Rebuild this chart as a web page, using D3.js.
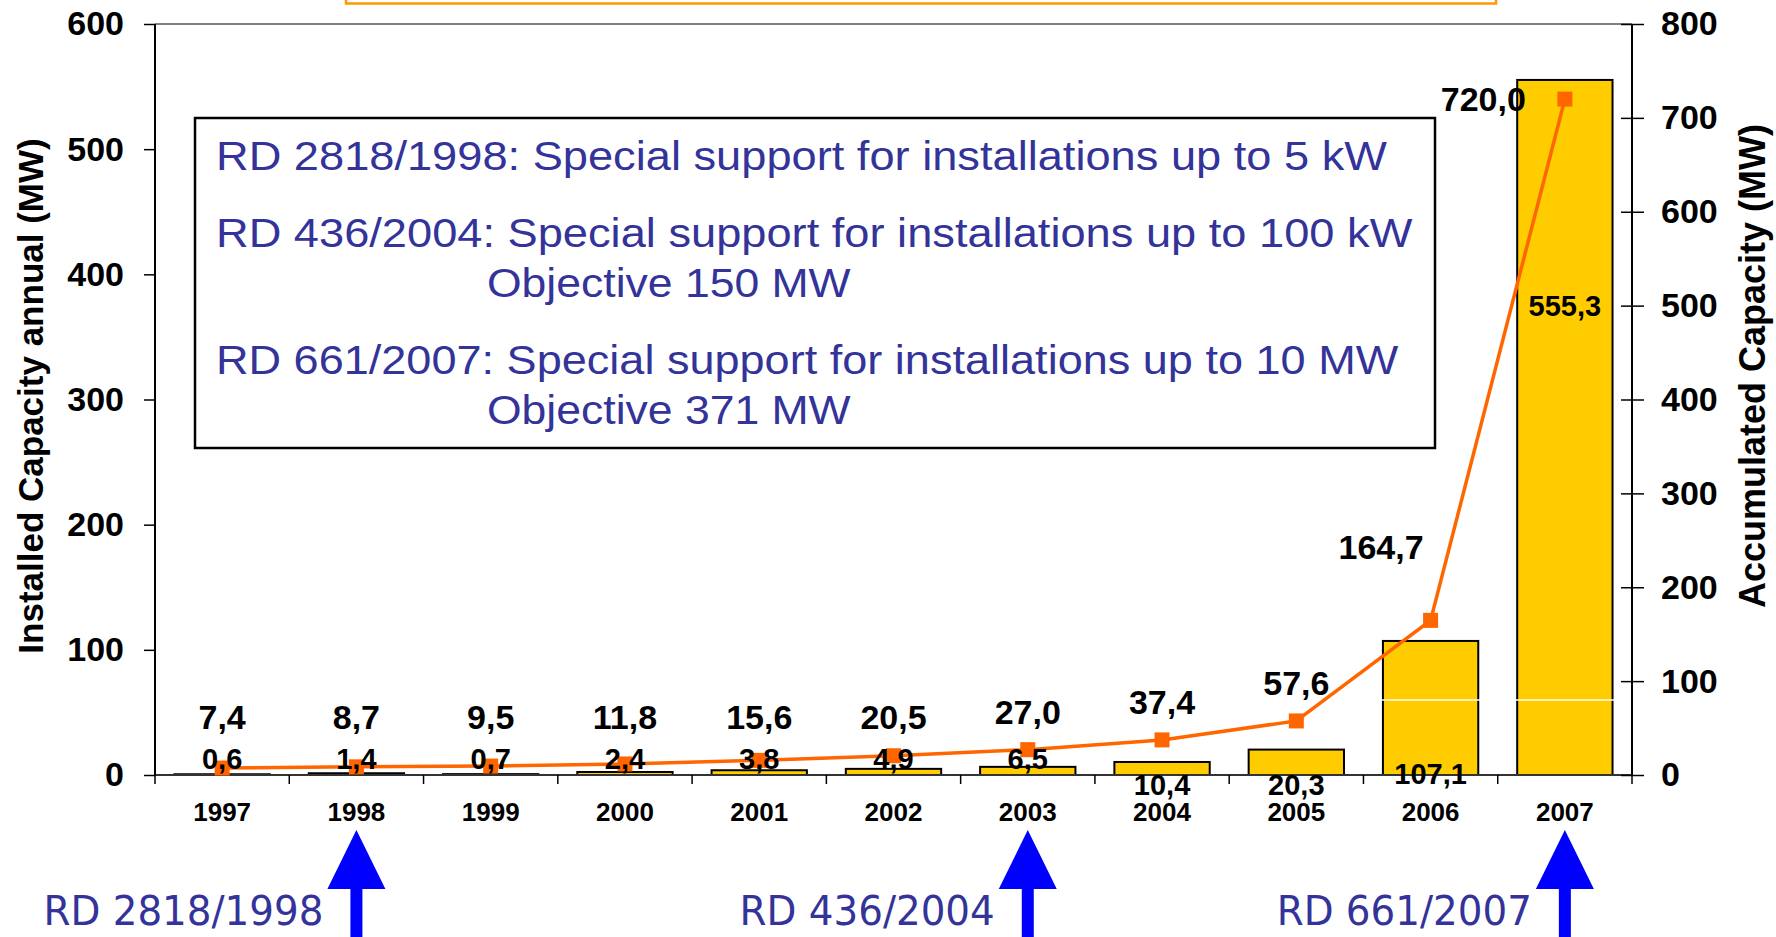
<!DOCTYPE html>
<html>
<head>
<meta charset="utf-8">
<script src="https://cdn.jsdelivr.net/npm/d3@7"></script>
<style>
  body { margin: 0; background: #fff; }
  svg text { font-family: "Liberation Sans", Arial, sans-serif; }
</style>
</head>
<body>
<svg id="chart" width="1776" height="937"></svg>
<script>
// data
const years = ["1997", "1998", "1999", "2000", "2001", "2002", "2003", "2004", "2005", "2006", "2007"];
const annualMW = [0.6, 1.4, 0.7, 2.4, 3.8, 4.9, 6.5, 10.4, 20.3, 107.1, 555.3];
const accumulatedMW = [7.4, 8.7, 9.5, 11.8, 15.6, 20.5, 27.0, 37.4, 57.6, 164.7, 720.0];
const leftTicks = [0, 100, 200, 300, 400, 500, 600];
const rightTicks = [0, 100, 200, 300, 400, 500, 600, 700, 800];
const leftTitle = "Installed Capacity annual (MW)";
const rightTitle = "Accumulated Capacity (MW)";
const decreeNames = ["RD 2818/1998", "RD 436/2004", "RD 661/2007"];
const decreeSupport = [
  "Special support for installations up to 5 kW",
  "Special support for installations up to 100 kW",
  "Special support for installations up to 10 MW"
];
const decreeObjective = [null, "Objective 150 MW", "Objective 371 MW"];
const decreeArrowYears = ["1998", "2003", "2007"];

const svg = d3.select("#chart");
const margin = {top: 24, right: 144, bottom: 162, left: 155};
const W = 1776, H = 937;
const x0 = margin.left, x1 = W - margin.right;   // 155 .. 1632
const yTop = margin.top, yBase = H - margin.bottom; // 24 .. 775

const x = d3.scaleBand().domain(years).range([x0, x1]).paddingInner(0.29).paddingOuter(0.145);
const yL = d3.scaleLinear().domain([0, 600]).range([yBase, yTop]);
const yR = d3.scaleLinear().domain([0, 800]).range([yBase, yTop]);
const fmt = v => d3.format(".1f")(v).replace(".", ",");
const cx = yr => x(yr) + x.bandwidth() / 2;
const arial = '"Liberation Sans", Arial, sans-serif';

// orange box cut off at the top
svg.append("rect")
  .attr("x", 346).attr("y", -20).attr("width", 1150).attr("height", 23.5)
  .attr("fill", "none").attr("stroke", "#FF9900").attr("stroke-width", 2.5);

// top frame line
svg.append("line")
  .attr("x1", x0).attr("x2", x1).attr("y1", yTop).attr("y2", yTop)
  .attr("stroke", "#808080").attr("stroke-width", 2);

// bars
svg.append("g").selectAll("rect").data(years).join("rect")
  .attr("x", d => x(d))
  .attr("y", (d, i) => yL(annualMW[i]))
  .attr("width", x.bandwidth())
  .attr("height", (d, i) => yBase - yL(annualMW[i]))
  .attr("fill", "#FFCC00").attr("stroke", "#000").attr("stroke-width", 2);

// faint white gridline that shows through the tall bars
svg.append("line")
  .attr("x1", x0 + 2).attr("x2", x1 - 2).attr("y1", yL(60)).attr("y2", yL(60))
  .attr("stroke", "#fff").attr("stroke-width", 1.5);

// x axis (baseline + ticks between categories)
svg.append("line")
  .attr("x1", x0).attr("x2", x1).attr("y1", yBase).attr("y2", yBase)
  .attr("stroke", "#333").attr("stroke-width", 2);
const bounds = years.map(d => x(d) - x.step() * x.paddingInner() / 2);
bounds[0] = x0; bounds.push(x1);
svg.append("g").selectAll("line").data(bounds).join("line")
  .attr("x1", d => d).attr("x2", d => d).attr("y1", yBase).attr("y2", yBase + 9)
  .attr("stroke", "#000").attr("stroke-width", 1.5);

const xAxis = svg.append("g")
  .attr("transform", `translate(0,${yBase})`)
  .call(d3.axisBottom(x).tickSize(0).tickPadding(28));
xAxis.select(".domain").remove();
xAxis.selectAll("text").attr("font-size", 26).attr("font-weight", "bold").attr("fill", "#000")
  .style("font-family", arial);

// left axis
const left = svg.append("g")
  .attr("transform", `translate(${x0},0)`)
  .call(d3.axisLeft(yL).tickValues(leftTicks).tickSize(11).tickPadding(20));
left.select(".domain").attr("stroke", "#000").attr("stroke-width", 2).attr("d", `M0,${yTop}V${yBase}`);
left.selectAll(".tick line").attr("stroke", "#000").attr("stroke-width", 1.5);
left.selectAll("text").attr("font-size", 34).attr("font-weight", "bold").attr("fill", "#000")
  .style("font-family", arial);

// right axis (ticks cross the line)
const right = svg.append("g")
  .attr("transform", `translate(${x1},0)`)
  .call(d3.axisRight(yR).tickValues(rightTicks).tickSize(12).tickPadding(17));
right.select(".domain").attr("stroke", "#000").attr("stroke-width", 2).attr("d", `M0,${yTop}V${yBase}`);
right.selectAll(".tick line").attr("x1", -11).attr("stroke", "#000").attr("stroke-width", 1.5);
right.selectAll("text").attr("font-size", 34).attr("font-weight", "bold").attr("fill", "#000")
  .style("font-family", arial);

// axis titles
svg.append("text")
  .attr("transform", `translate(43,396) rotate(-90)`)
  .attr("text-anchor", "middle").attr("font-size", 35).attr("font-weight", "bold")
  .text(leftTitle);
svg.append("text")
  .attr("transform", `translate(1765,366) rotate(-90)`)
  .attr("text-anchor", "middle").attr("font-size", 36).attr("font-weight", "bold")
  .text(rightTitle);

// accumulated line + markers
const line = d3.line().x((d, i) => cx(years[i])).y(d => yR(d));
svg.append("path").datum(accumulatedMW)
  .attr("d", line).attr("fill", "none")
  .attr("stroke", "#FF6600").attr("stroke-width", 3.5);
svg.append("g").selectAll("rect").data(accumulatedMW).join("rect")
  .attr("x", (d, i) => cx(years[i]) - 7.5)
  .attr("y", d => yR(d) - 7.5)
  .attr("width", 15).attr("height", 15)
  .attr("fill", "#FF6600");

// accumulated labels
svg.append("g").selectAll("text").data(accumulatedMW).join("text")
  .attr("x", (d, i) => {
    const mx = cx(years[i]);
    if (d > 500) return mx - 39;
    if (d > 100) return mx - 7;
    return mx;
  })
  .attr("y", d => {
    const my = yR(d);
    if (d > 500) return my + 12;
    if (d > 100) return my - 61;
    return Math.min(729, my - 26);
  })
  .attr("text-anchor", d => d > 100 ? "end" : "middle")
  .attr("font-size", 34).attr("font-weight", "bold").attr("fill", "#000")
  .text(fmt);

// annual labels
svg.append("g").selectAll("text").data(annualMW).join("text")
  .attr("x", (d, i) => cx(years[i]))
  .attr("y", d => {
    if (d < 10) return yBase - 6;
    if (d < 100) return yBase + 20;
    if (d < 200) return yBase + 9;
    return yBase - (yBase - yL(d)) * 0.66;
  })
  .attr("text-anchor", "middle")
  .attr("font-size", 29).attr("font-weight", "bold").attr("fill", "#000")
  .text(fmt);

// text box with the decrees
const blue = "#333399";
const boxFont = '"DejaVu Sans", Verdana, sans-serif';
svg.append("rect")
  .attr("x", 195).attr("y", 118).attr("width", 1240).attr("height", 330)
  .attr("fill", "#fff").attr("stroke", "#000").attr("stroke-width", 2.5);

const boxG = svg.append("g").style("font-family", boxFont);
const measure = (s, size) => {
  const t = boxG.append("text").attr("font-size", size).style("font-family", boxFont).text(s);
  const w = t.node().getComputedTextLength();
  t.remove();
  return w;
};
const boxSize = 41;
const first = decreeNames[0] + ": " + decreeSupport[0];
const squeeze = 1171 / measure(first, boxSize);

let baseY = 170;
decreeNames.forEach((name, i) => {
  const s = name + ": " + decreeSupport[i];
  boxG.append("text")
    .attr("x", 216).attr("y", baseY)
    .attr("font-size", boxSize).attr("fill", blue)
    .attr("textLength", measure(s, boxSize) * squeeze).attr("lengthAdjust", "spacingAndGlyphs")
    .text(s);
  if (decreeObjective[i]) {
    baseY += 50;
    const indent = measure(name + ": ", boxSize) * squeeze;
    boxG.append("text")
      .attr("x", 216 + indent - 4).attr("y", baseY)
      .attr("font-size", boxSize).attr("fill", blue)
      .attr("textLength", measure(decreeObjective[i], boxSize) * squeeze).attr("lengthAdjust", "spacingAndGlyphs")
      .text(decreeObjective[i]);
  }
  baseY += 77;
});

// arrows and decree labels below the axis
const arrowG = svg.append("g");
decreeArrowYears.forEach((yr, i) => {
  const ax = cx(yr);
  arrowG.append("path")
    .attr("d", `M${ax},830 L${ax + 29},889 L${ax + 6},889 L${ax + 6},937 L${ax - 6},937 L${ax - 6},889 L${ax - 29},889 Z`)
    .attr("fill", "#0000FF");
  arrowG.append("text")
    .attr("x", ax - 33).attr("y", 925)
    .attr("text-anchor", "end")
    .attr("font-size", 40).attr("fill", blue)
    .style("font-family", boxFont)
    .attr("textLength", measure(decreeNames[i], 40) * squeeze).attr("lengthAdjust", "spacingAndGlyphs")
    .text(decreeNames[i]);
});
</script>
</body>
</html>
